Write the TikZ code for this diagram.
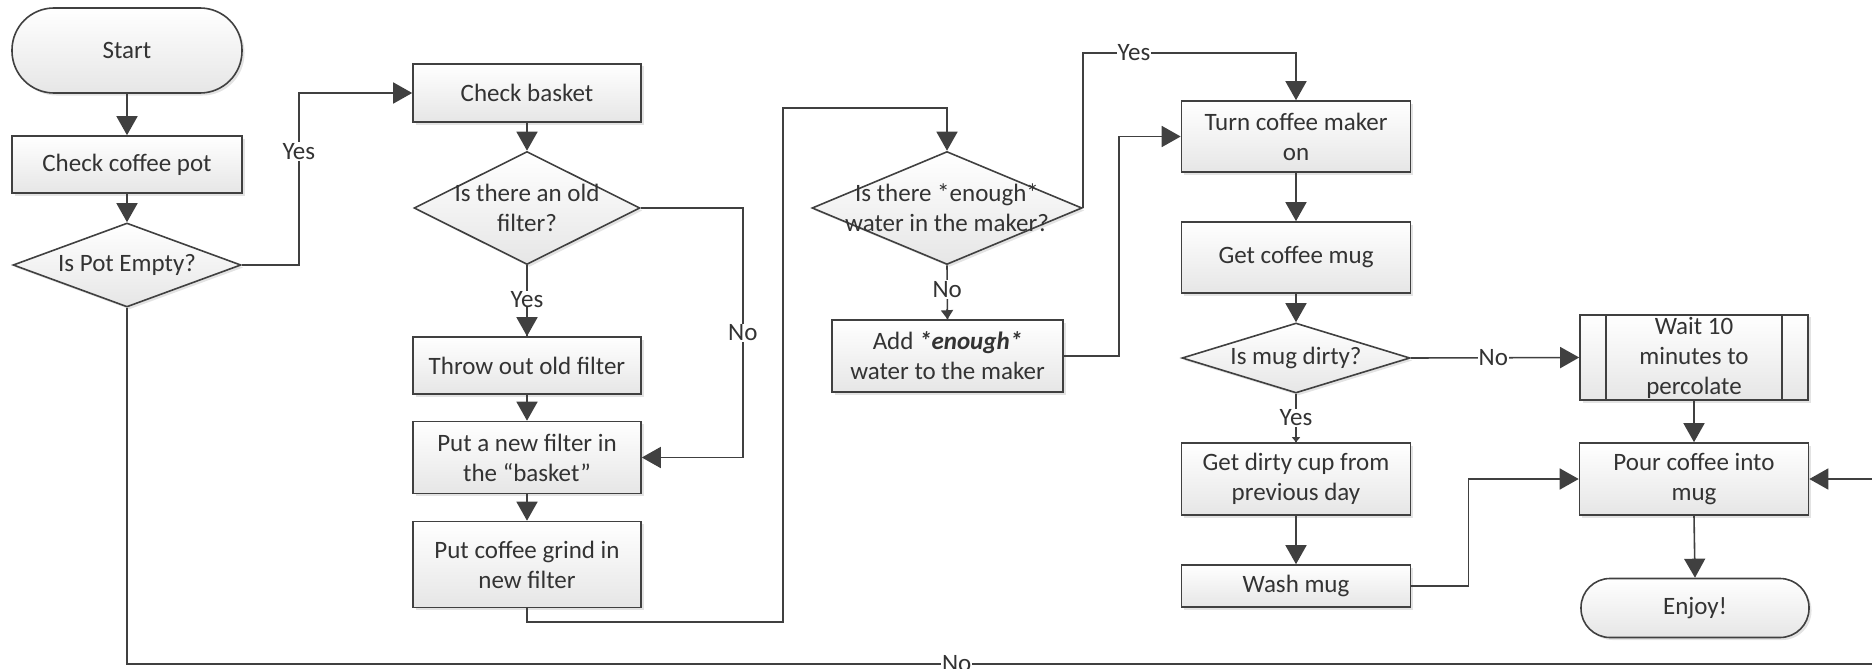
\documentclass[tikz,border=0pt]{standalone}
\usepackage{fontspec}
\setmainfont{Carlito}
\usetikzlibrary{shapes.geometric,arrows.meta,shadows,calc}
\definecolor{ln}{HTML}{404040}
\definecolor{txt}{HTML}{333333}
\definecolor{fillbot}{HTML}{E6E6E6}
\begin{document}
\begin{tikzpicture}[x=1pt,y=-1pt,font=\fontsize{25}{30}\selectfont,
  base/.style={draw=ln, line width=1.6pt, top color=white, bottom color=fillbot,
    drop shadow={shadow xshift=2.5pt, shadow yshift=-2.5pt, opacity=0.22},
    text=txt, align=center, inner sep=2pt},
  proc/.style={base, rectangle},
  term/.style={base, rectangle, rounded corners=#1},
  dec/.style={base, diamond, inner sep=0pt},
  lbl/.style={fill=white, text=txt, inner sep=1pt},
  arr/.style={draw=ln, line width=1.6pt, -{Triangle[length=19pt,width=21pt]}},
  arrs/.style={draw=ln, line width=1.6pt, -{Triangle[length=9pt,width=12pt]}},
  arrt/.style={draw=ln, line width=1.6pt, -{Triangle[length=5pt,width=8pt]}},
  conn/.style={draw=ln, line width=1.6pt}
]
\useasboundingbox (0,0) rectangle (1872,669);

% column 1
\node[term=42pt, minimum width=230pt, minimum height=85pt] (start) at (127,50.5) {Start};
\node[proc, minimum width=230pt, minimum height=57pt] (checkpot) at (127,164.5) {Check coffee pot};
\node[dec, minimum width=228pt, minimum height=84pt,
  label={[text=txt,align=center]center:Is Pot Empty?}] (pot) at (127,265) {};

% column 2
\node[proc, minimum width=228pt, minimum height=58pt] (basket) at (527,93) {Check basket};
\node[dec, minimum width=226pt, minimum height=113pt,
  label={[text=txt,align=center]center:Is there an old\\filter?}] (oldf) at (527,208) {};
\node[proc, minimum width=228pt, minimum height=57pt] (throw) at (527,365.5) {Throw out old filter};
\node[proc, minimum width=228pt, minimum height=72pt] (newf) at (527,457.5) {Put a new filter in\\the “basket”};
\node[proc, minimum width=228pt, minimum height=86pt] (grind) at (527,564.5) {Put coffee grind in\\new filter};

% column 3
\node[dec, minimum width=270pt, minimum height=113pt,
  label={[text=txt,align=center]center:Is there *enough*\\water in the maker?}] (water) at (947,208) {};
\node[proc, minimum width=231pt, minimum height=72pt] (add) at (947.5,356) {Add \textbf{\textit{*enough*}}\\water to the maker};

% column 4
\node[proc, minimum width=229pt, minimum height=71pt] (turn) at (1296,136.5) {Turn coffee maker\\on};
\node[proc, minimum width=229pt, minimum height=71pt] (mug) at (1296,257.5) {Get coffee mug};
\node[dec, minimum width=228pt, minimum height=70pt,
  label={[text=txt,align=center]center:Is mug dirty?}] (mugd) at (1296,358) {};
\node[proc, minimum width=229pt, minimum height=72pt] (dirty) at (1296,479) {Get dirty cup from\\previous day};
\node[proc, minimum width=229pt, minimum height=42pt] (wash) at (1296,586) {Wash mug};

% column 5
\node[proc, minimum width=228pt, minimum height=85pt] (wait) at (1694,357.5) {Wait 10\\minutes to\\percolate};
\draw[conn] ([xshift=27pt]wait.north west) -- ([xshift=27pt]wait.south west);
\draw[conn] ([xshift=-27pt]wait.north east) -- ([xshift=-27pt]wait.south east);
\node[proc, minimum width=229pt, minimum height=72pt] (pour) at (1694,479) {Pour coffee into\\mug};
\node[term=29pt, minimum width=228pt, minimum height=59pt] (enjoy) at (1695,608) {Enjoy!};

% connectors
\draw[arr] (start.south) -- (checkpot.north);
\draw[arr] (checkpot.south) -- (pot.north);
\draw[arr] (pot.east) -- ++(57,0) |- node[lbl,pos=0.33]{Yes} (basket.west);
\draw[arr] (basket.south) -- (oldf.north);
\draw[conn] (oldf.south) -- node[lbl,pos=0.49]{Yes} (throw.north);
\draw[arr] (oldf.south) ++(0,42) -- (throw.north);
\draw[arr] (oldf.east) -- ++(102,0) |- node[lbl,pos=0.25]{No} (newf.east);
\draw[arr] (throw.south) -- (newf.north);
\draw[arr] (newf.south) -- (grind.north);
\draw[arr] (grind.south) |- (783,622) |- (947,108) -- (water.north);
\draw[arr] (water.east) |- node[lbl,pos=0.62]{Yes} (turn.north |- 0,53) -- (turn.north);
\draw[conn] (water.south) -- node[lbl,pos=0.45]{No} (add.north);
\draw[arrs] (water.south) ++(0,44) -- (add.north);
\draw[arr] (add.east) -- ++(55,0) |- (turn.west);
\draw[arr] (turn.south) -- (mug.north);
\draw[arr] (mug.south) -- (mugd.north);
\draw[arr] (mugd.east) -- node[lbl,pos=0.49]{No} (wait.west);
\draw[conn] (mugd.south) -- node[lbl,pos=0.5]{Yes} (dirty.north);
\draw[arrt] (mugd.south) ++(0,42) -- (dirty.north);
\draw[arr] (dirty.south) -- (wash.north);
\draw[arr] (wash.east) -- ++(57,0) |- (pour.west);
\draw[arr] (wait.south) -- (pour.north);
\draw[arr] (pour.south) -- (enjoy.north);
\draw[arr] (pot.south) |- node[lbl,pos=0.736]{No} (1885,664) |- (pour.east);
\end{tikzpicture}
\end{document}
